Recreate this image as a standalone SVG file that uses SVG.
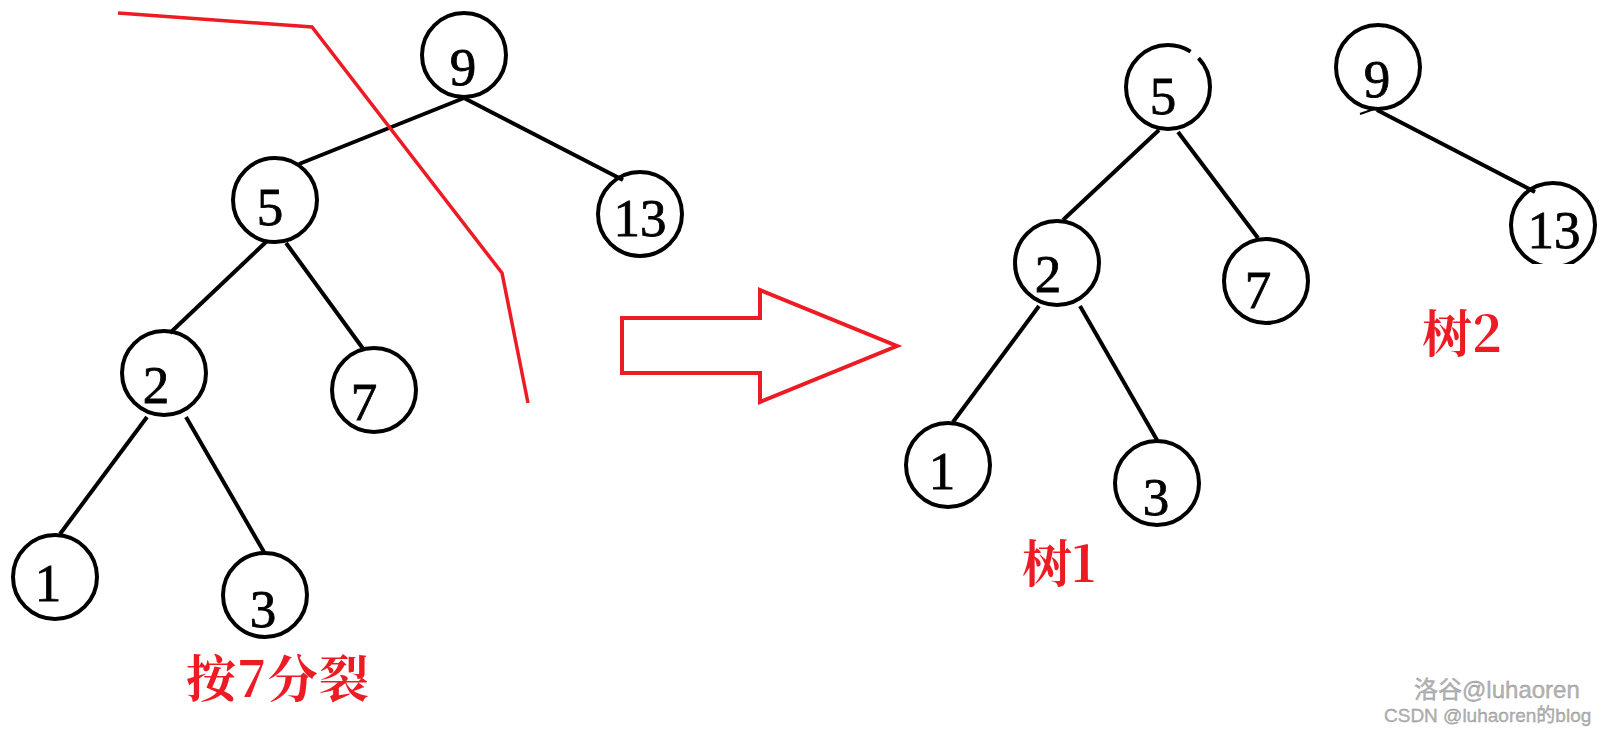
<svg xmlns="http://www.w3.org/2000/svg" width="1608" height="732" viewBox="0 0 1608 732">
<style>
.n{fill:none;stroke:#000;stroke-width:4}
.d{font-family:"Liberation Serif","DejaVu Serif",serif;font-size:53px;fill:#000;stroke:#000;stroke-width:0.8;text-anchor:middle}
.e{stroke:#000;stroke-width:4;fill:none;stroke-linecap:butt}
.red{stroke:#ED1C24;fill:none}
.lbl{font-family:"Noto Serif CJK SC","Liberation Serif","Noto Sans CJK SC",serif;font-size:50px;font-weight:bold;fill:#ED1C24}
.wm{font-family:"Liberation Sans","Noto Sans CJK SC",sans-serif;fill:#b4b4b4;stroke:#8c8c8c;stroke-width:0.3}
</style>
<defs>
<clipPath id="cut13"><rect x="1500" y="170" width="108" height="94"/></clipPath>
</defs>
<rect width="1608" height="732" fill="#fff"/>
<g id="connectors">
<line class="e" x1="464" y1="98" x2="299" y2="164"/>
<line class="e" x1="464" y1="98" x2="623" y2="180"/>
<line class="e" x1="267" y1="241" x2="170" y2="333"/>
<line class="e" x1="286" y1="243" x2="364" y2="350"/>
<line class="e" x1="147" y1="417" x2="60" y2="534"/>
<line class="e" x1="186" y1="417" x2="264" y2="552"/>
<line class="e" x1="1159" y1="130" x2="1063" y2="220"/>
<line class="e" x1="1178" y1="132" x2="1258" y2="238"/>
<line class="e" x1="1039" y1="306" x2="953" y2="422"/>
<line class="e" x1="1080" y1="306" x2="1157" y2="440"/>
<line class="e" x1="1377" y1="110" x2="1535" y2="192"/>
<line class="e" x1="1360" y1="114" x2="1377" y2="108" style="stroke-width:2"/>
</g>
<g id="split-line">
<polyline class="red" stroke-width="3.5" points="118,13 312,27 502,273 528,403"/>
</g>
<g id="big-arrow">
<polygon class="red" stroke-width="4" stroke-linejoin="miter" points="622,318 760,318 760,290 897,346 760,402 760,373 622,373"/>
</g>
<g id="L9"><circle class="n" cx="464" cy="55" r="42"/><text class="d" x="463" y="85">9</text></g>
<g id="L5"><circle class="n" cx="275" cy="200" r="42"/><text class="d" x="270" y="225">5</text></g>
<g id="L13"><circle class="n" cx="640" cy="214" r="42"/><text class="d" x="640" y="236">13</text></g>
<g id="L2"><circle class="n" cx="164" cy="373" r="42"/><text class="d" x="156" y="403">2</text></g>
<g id="L7"><circle class="n" cx="374" cy="390" r="42"/><text class="d" x="364" y="420">7</text></g>
<g id="L1"><circle class="n" cx="55" cy="577" r="42"/><text class="d" x="48" y="601">1</text></g>
<g id="L3"><circle class="n" cx="265" cy="595" r="42"/><text class="d" x="263" y="627">3</text></g>
<g id="R5"><circle class="n" cx="1168" cy="87" r="42" stroke-dasharray="221.4 10.3 32.3 0"/><text class="d" x="1163" y="114">5</text></g>
<g id="R2"><circle class="n" cx="1057" cy="263" r="42"/><text class="d" x="1048" y="292">2</text></g>
<g id="R7"><circle class="n" cx="1266" cy="281" r="42"/><text class="d" x="1258" y="308">7</text></g>
<g id="R1"><circle class="n" cx="948" cy="465" r="42"/><text class="d" x="942" y="489">1</text></g>
<g id="R3"><circle class="n" cx="1157" cy="483" r="42"/><text class="d" x="1156" y="515">3</text></g>
<g id="R9"><circle class="n" cx="1378" cy="67" r="42"/><text class="d" x="1377" y="97">9</text></g>
<g id="R13"><circle class="n" cx="1553" cy="225" r="42" clip-path="url(#cut13)"/><text class="d" x="1554" y="248">13</text></g>
<g id="labels">
<text class="lbl" x="186" y="697" textLength="183" lengthAdjust="spacing">按7分裂</text>
<text class="lbl" x="1022" y="582">树1</text>
<text class="lbl" x="1422" y="352">树2</text>
</g>
<g id="watermark">
<text class="wm" x="1414" y="698" font-size="24">洛谷@luhaoren</text>
<text class="wm" x="1384" y="722" font-size="19">CSDN @luhaoren的blog</text>
</g>
</svg>
